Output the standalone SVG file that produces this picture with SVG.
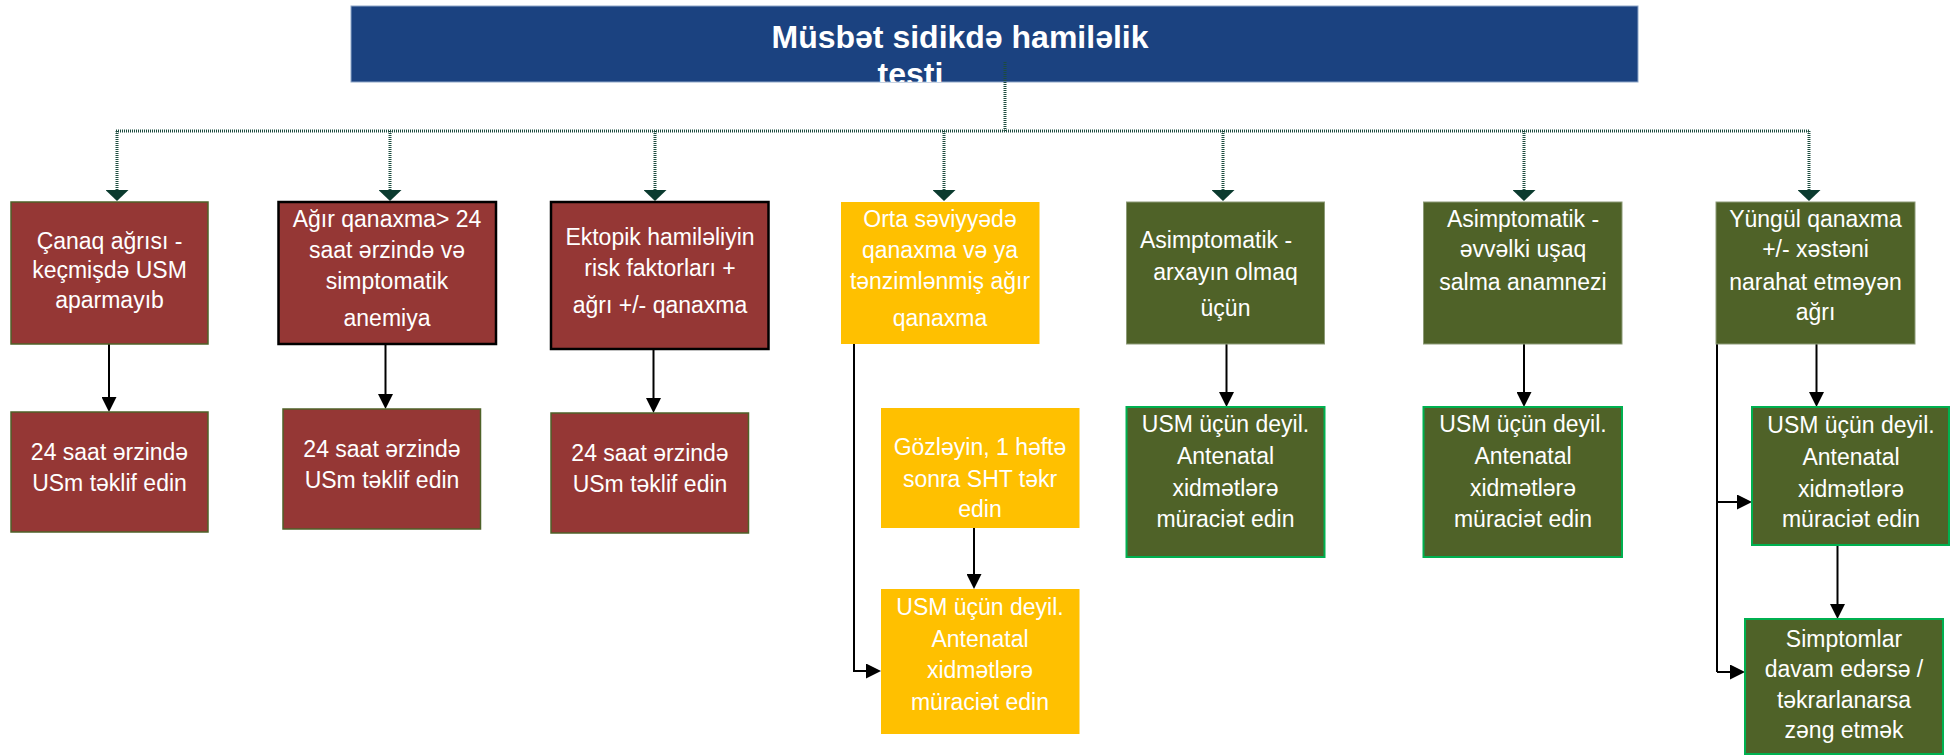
<svg xmlns="http://www.w3.org/2000/svg" width="1959" height="756" viewBox="0 0 1959 756">
<style>
  text { font-family: "Liberation Sans", Arial, sans-serif; font-size: 23px; fill: #ffffff; text-anchor: middle; }
  .title { font-weight: bold; font-size: 32px; }
  .red { fill: #953735; stroke: #4f6228; stroke-width: 1.5; }
  .redb { fill: #953735; stroke: #000000; stroke-width: 2.5; }
  .amber { fill: #ffc000; stroke: none; }
  .green { fill: #4f6228; stroke: #8c9a76; stroke-width: 1; }
  .greenb { fill: #4f6228; stroke: #00b050; stroke-width: 2; }
  .tree { fill: none; stroke: #1d4c3f; stroke-width: 3; stroke-dasharray: 1 1; }
  .arr { fill: none; stroke: #000000; stroke-width: 2; }
</style>
<defs>
  <marker id="dg" viewBox="0 0 11 23" refX="0" refY="11.5" markerWidth="11" markerHeight="23" markerUnits="userSpaceOnUse" orient="auto">
    <path d="M0,0 L11,11.5 L0,23 z" fill="#0b3b2f"/>
  </marker>
  <marker id="bk" viewBox="0 0 15 15" refX="0" refY="7.5" markerWidth="15" markerHeight="15" markerUnits="userSpaceOnUse" orient="auto">
    <path d="M0,0 L15,7.5 L0,15 z" fill="#000000"/>
  </marker>
  <clipPath id="titleClip"><rect x="351" y="6" width="1287" height="76"/></clipPath>
</defs>
<rect x="0" y="0" width="1959" height="756" fill="#ffffff"/>

<g id="title">
  <rect x="351" y="6" width="1287" height="76" fill="#1b4280" stroke="#8ea6c8" stroke-width="1"/>
  <g clip-path="url(#titleClip)">
    <text class="title" x="960" y="48">Müsbət sidikdə hamiləlik</text>
    <text class="title" x="910.5" y="85">testi</text>
  </g>
</g>

<g id="connectors">
  <path class="tree" d="M1005,62 V131 M116,131 H1810"/>
  <path class="tree" marker-end="url(#dg)" d="M117,131 V190"/>
  <path class="tree" marker-end="url(#dg)" d="M390,131 V190"/>
  <path class="tree" marker-end="url(#dg)" d="M655,131 V190"/>
  <path class="tree" marker-end="url(#dg)" d="M944,131 V190"/>
  <path class="tree" marker-end="url(#dg)" d="M1223,131 V190"/>
  <path class="tree" marker-end="url(#dg)" d="M1524,131 V190"/>
  <path class="tree" marker-end="url(#dg)" d="M1809,131 V190"/>

  <path class="arr" marker-end="url(#bk)" d="M109,344 V397"/>
  <path class="arr" marker-end="url(#bk)" d="M385.5,344 V394"/>
  <path class="arr" marker-end="url(#bk)" d="M653.5,349 V398"/>
  <path class="arr" marker-end="url(#bk)" d="M854,344 V671 H866"/>
  <path class="arr" marker-end="url(#bk)" d="M974,528 V574"/>
  <path class="arr" marker-end="url(#bk)" d="M1226.5,344 V392"/>
  <path class="arr" marker-end="url(#bk)" d="M1524,344 V392"/>
  <path class="arr" marker-end="url(#bk)" d="M1816.5,344 V392"/>
  <path class="arr" d="M1717,344 V672"/>
  <path class="arr" marker-end="url(#bk)" d="M1717,502 H1737"/>
  <path class="arr" marker-end="url(#bk)" d="M1717,672 H1730"/>
  <path class="arr" marker-end="url(#bk)" d="M1837.5,545 V604"/>
</g>

<g id="n1">
  <rect class="red" x="11" y="202" width="197" height="142"/>
  <text x="109.5" y="249">Çanaq ağrısı -</text>
  <text x="109.5" y="278">keçmişdə USM</text>
  <text x="109.5" y="308">aparmayıb</text>
</g>
<g id="n2">
  <rect class="redb" x="278.5" y="202" width="217.5" height="142"/>
  <text x="387" y="227">Ağır qanaxma&gt; 24</text>
  <text x="387" y="258">saat ərzində və</text>
  <text x="387" y="289">simptomatik</text>
  <text x="387" y="326">anemiya</text>
</g>
<g id="n3">
  <rect class="redb" x="551" y="202" width="217.5" height="147"/>
  <text x="660" y="245">Ektopik hamiləliyin</text>
  <text x="660" y="276">risk faktorları +</text>
  <text x="660" y="313">ağrı +/- qanaxma</text>
</g>
<g id="n4">
  <rect class="amber" x="841" y="202" width="198.5" height="142"/>
  <text x="940" y="227">Orta səviyyədə</text>
  <text x="940" y="258">qanaxma və ya</text>
  <text x="940" y="289">tənzimlənmiş ağır</text>
  <text x="940" y="326">qanaxma</text>
</g>
<g id="n5">
  <rect class="green" x="1126.5" y="202" width="198" height="142"/>
  <text x="1216" y="248">Asimptomatik -</text>
  <text x="1225.5" y="280">arxayın olmaq</text>
  <text x="1225.5" y="316">üçün</text>
</g>
<g id="n6">
  <rect class="green" x="1423.5" y="202" width="198.5" height="142"/>
  <text x="1523" y="227">Asimptomatik -</text>
  <text x="1523" y="257">əvvəlki uşaq</text>
  <text x="1523" y="290">salma anamnezi</text>
</g>
<g id="n7">
  <rect class="green" x="1716" y="202" width="199" height="142"/>
  <text x="1815.5" y="227">Yüngül qanaxma</text>
  <text x="1815.5" y="257">+/- xəstəni</text>
  <text x="1815.5" y="290">narahat etməyən</text>
  <text x="1815.5" y="320">ağrı</text>
</g>

<g id="n1b">
  <rect class="red" x="11" y="412" width="197" height="120"/>
  <text x="109.5" y="460">24 saat ərzində</text>
  <text x="109.5" y="491">USm təklif edin</text>
</g>
<g id="n2b">
  <rect class="red" x="283" y="409" width="197.5" height="120"/>
  <text x="382" y="457">24 saat ərzində</text>
  <text x="382" y="488">USm təklif edin</text>
</g>
<g id="n3b">
  <rect class="red" x="551" y="413" width="197.5" height="120"/>
  <text x="650" y="461">24 saat ərzində</text>
  <text x="650" y="492">USm təklif edin</text>
</g>
<g id="n4b">
  <rect class="amber" x="881" y="408" width="198.5" height="120"/>
  <text x="980" y="455">Gözləyin, 1 həftə</text>
  <text x="980" y="487">sonra SHT təkr</text>
  <text x="980" y="517">edin</text>
</g>
<g id="n4c">
  <rect class="amber" x="881" y="589" width="198.5" height="145"/>
  <text x="980" y="615">USM üçün deyil.</text>
  <text x="980" y="647">Antenatal</text>
  <text x="980" y="678">xidmətlərə</text>
  <text x="980" y="710">müraciət edin</text>
</g>
<g id="n5b">
  <rect class="greenb" x="1126.5" y="407" width="198" height="150"/>
  <text x="1225.5" y="432">USM üçün deyil.</text>
  <text x="1225.5" y="464">Antenatal</text>
  <text x="1225.5" y="496">xidmətlərə</text>
  <text x="1225.5" y="527">müraciət edin</text>
</g>
<g id="n6b">
  <rect class="greenb" x="1423.5" y="407" width="198.5" height="150"/>
  <text x="1523" y="432">USM üçün deyil.</text>
  <text x="1523" y="464">Antenatal</text>
  <text x="1523" y="496">xidmətlərə</text>
  <text x="1523" y="527">müraciət edin</text>
</g>
<g id="n7b">
  <rect class="greenb" x="1752" y="407" width="197" height="138"/>
  <text x="1851" y="433">USM üçün deyil.</text>
  <text x="1851" y="465">Antenatal</text>
  <text x="1851" y="497">xidmətlərə</text>
  <text x="1851" y="527">müraciət edin</text>
</g>
<g id="n7c">
  <rect class="greenb" x="1745" y="619" width="198" height="135"/>
  <text x="1844" y="647">Simptomlar</text>
  <text x="1844" y="677">davam edərsə /</text>
  <text x="1844" y="708">təkrarlanarsa</text>
  <text x="1844" y="738">zəng etmək</text>
</g>
</svg>
